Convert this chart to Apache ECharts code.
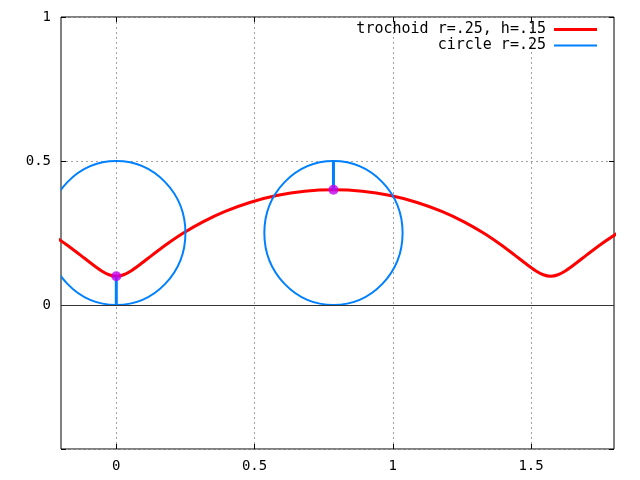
<!DOCTYPE html>
<html>
<head>
<meta charset="utf-8">
<script src="https://cdn.jsdelivr.net/npm/echarts@6/dist/echarts.min.js"></script>
<style>
  html, body { margin: 0; padding: 0; background: #fff; }
  #chart { width: 640px; height: 480px; }
</style>
</head>
<body>
<div id="chart"></div>
<script>
// trochoid r=.25, h=.15
var trochoidX = [-0.2427, -0.1824, -0.1319, -0.0903, -0.0559, -0.0266, 0, 0.0266, 0.0559, 0.0903, 0.1319, 0.1824,
  0.2427, 0.3133, 0.3937, 0.4830, 0.5795, 0.6811, 0.7854, 0.8897, 0.9913, 1.0878, 1.1771, 1.2575,
  1.3281, 1.3884, 1.4389, 1.4805, 1.5149, 1.5442, 1.5708, 1.5974, 1.6267, 1.6611, 1.7027, 1.7532, 1.8135];
var trochoidY = [0.25, 0.2112, 0.175, 0.1439, 0.1201, 0.1051, 0.1, 0.1051, 0.1201, 0.1439, 0.175, 0.2112,
  0.25, 0.2888, 0.325, 0.3561, 0.3799, 0.3949, 0.4, 0.3949, 0.3799, 0.3561, 0.325, 0.2888,
  0.25, 0.2112, 0.175, 0.1439, 0.1201, 0.1051, 0.1, 0.1051, 0.1201, 0.1439, 0.175, 0.2112, 0.25];

// rolling circles: centre x, centre y, radius
var circleCX = [0, 0.7854];
var circleCY = [0.25, 0.25];
var circleR = [0.25, 0.25];

// spokes from rolling point to circle rim
var spokeX = [0, 0, null, 0.7854, 0.7854];
var spokeY = [0, 0.1, null, 0.5, 0.4];

// points on curve
var pointX = [0, 0.7854];
var pointY = [0.1, 0.4];

var xTicks = [0, 0.5, 1, 1.5];
var yTicks = [0, 0.5, 1];

var nameTrochoid = 'trochoid r=.25, h=.15';
var nameCircle = 'circle r=.25';

function pairs(xs, ys) {
  return xs.map(function (x, i) { return x === null ? '-' : [x, ys[i]]; });
}

var font = 'DejaVu Sans Mono';
var gridLine = { show: true, lineStyle: { color: '#a0a0a0', type: [2, 3], width: 1 } };
var tick = { show: true, inside: true, length: 5, lineStyle: { color: '#000', width: 1 } };
var noLine = { show: false, onZero: false };

var chart = echarts.init(document.getElementById('chart'));
var option = {
  backgroundColor: '#fff',
  animation: false,
  textStyle: { fontFamily: font },
  grid: {
    left: 61, right: 26, top: 17, bottom: 31,
    show: true, borderColor: '#000', borderWidth: 1, backgroundColor: '#fff'
  },
  legend: [{
    data: [nameTrochoid],
    orient: 'vertical', align: 'right',
    right: 38, top: 17,
    icon: 'rect', itemWidth: 43, itemHeight: 3,
    textStyle: { fontFamily: font, fontSize: 15, color: '#000', padding: [0, 3, 0, 0] }
  }, {
    data: [nameCircle],
    orient: 'vertical', align: 'right',
    right: 38, top: 33,
    icon: 'rect', itemWidth: 43, itemHeight: 2,
    textStyle: { fontFamily: font, fontSize: 15, color: '#000', padding: [0, 3, 0, 0] }
  }],
  xAxis: [{
    type: 'value', min: -0.2, max: 1.8, position: 'bottom',
    axisLine: noLine,
    axisTick: Object.assign({ customValues: xTicks }, tick),
    axisLabel: { customValues: xTicks, margin: 10, fontFamily: font, fontSize: 14, color: '#000' },
    splitLine: gridLine
  }, {
    type: 'value', min: -0.2, max: 1.8, position: 'top',
    axisLine: noLine,
    axisTick: Object.assign({ customValues: xTicks }, tick),
    axisLabel: { show: false },
    splitLine: { show: false }
  }],
  yAxis: [{
    type: 'value', min: -0.5, max: 1, interval: 0.5, position: 'left',
    axisLine: noLine,
    axisTick: tick,
    axisLabel: {
      margin: 10, fontFamily: font, fontSize: 14, color: '#000',
      formatter: function (v) { return yTicks.indexOf(v) >= 0 ? String(v) : ''; }
    },
    splitLine: gridLine
  }, {
    type: 'value', min: -0.5, max: 1, interval: 0.5, position: 'right',
    axisLine: noLine,
    axisTick: tick,
    axisLabel: { show: false },
    splitLine: { show: false }
  }],
  series: [{
    name: nameTrochoid,
    type: 'line',
    data: pairs(trochoidX, trochoidY),
    smooth: 0.3,
    symbol: 'none',
    clip: true,
    color: '#ff0000',
    lineStyle: { color: '#ff0000', width: 3 },
    markLine: {
      silent: true, symbol: 'none', animation: false,
      label: { show: false },
      lineStyle: { color: '#333', width: 1, type: 'solid' },
      data: [{ yAxis: 0 }]
    },
    z: 3
  }, {
    name: nameCircle,
    type: 'custom',
    clip: true,
    color: '#0080ff',
    itemStyle: { color: '#0080ff' },
    data: circleCX.map(function (cx, i) { return [cx, circleCY[i], circleR[i]]; }),
    encode: { x: 0, y: 1 },
    renderItem: function (params, api) {
      var c = api.coord([api.value(0), api.value(1)]);
      var s = api.size([api.value(2), api.value(2)]);
      return {
        type: 'ellipse',
        shape: { cx: c[0], cy: c[1], rx: s[0], ry: s[1] },
        style: { fill: null, stroke: '#0080ff', lineWidth: 2 }
      };
    },
    z: 4
  }, {
    name: nameCircle,
    type: 'line',
    data: pairs(spokeX, spokeY),
    connectNulls: false,
    symbol: 'none', clip: true,
    color: '#0080ff',
    lineStyle: { color: '#0080ff', width: 3 },
    z: 4
  }, {
    type: 'scatter',
    data: pairs(pointX, pointY),
    symbol: 'circle',
    symbolSize: 10,
    itemStyle: { color: '#c400f0' },
    z: 5
  }]
};
chart.setOption(option);
</script>
</body>
</html>
